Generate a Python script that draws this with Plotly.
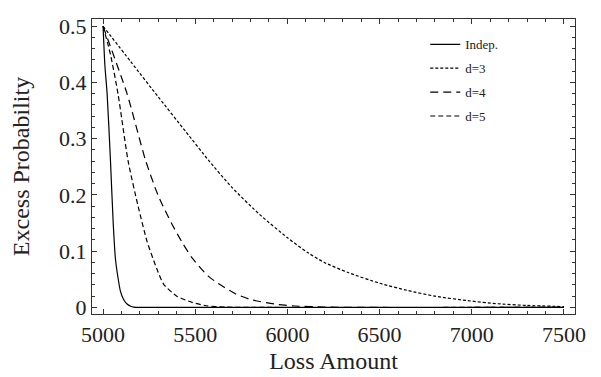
import plotly.graph_objects as go

# Data
indep_x = [5000, 5010, 5022, 5040, 5055, 5067, 5080, 5094, 5110, 5130, 5150, 5166, 5200, 5500, 7500]
indep_y = [0.5, 0.43, 0.38, 0.262, 0.15, 0.087, 0.055, 0.029, 0.015, 0.006, 0.002, 0.0005, 0.0, 0.0, 0.0]

d3_x = [5000, 5150, 5300, 5450, 5576, 5700, 5850, 6000, 6112, 6200, 6329, 6500, 6654, 6800, 6979, 7142, 7300, 7500]
d3_y = [0.5, 0.437, 0.374, 0.312, 0.26, 0.213, 0.165, 0.124, 0.097, 0.080, 0.062, 0.043, 0.030, 0.020, 0.012, 0.0065, 0.0035, 0.0015]

d4_x = [5000, 5130, 5230, 5300, 5374, 5430, 5483, 5569, 5627, 5720, 5800, 5931, 6040, 6200, 6400, 7500]
d4_y = [0.5, 0.38, 0.262, 0.198, 0.148, 0.115, 0.088, 0.056, 0.042, 0.024, 0.014, 0.006, 0.0025, 0.0007, 0.0, 0.0]

d5_x = [5000, 5040, 5081, 5136, 5190, 5239, 5290, 5329, 5400, 5483, 5560, 5660, 5800, 7500]
d5_y = [0.5, 0.45, 0.38, 0.26, 0.18, 0.117, 0.070, 0.041, 0.020, 0.009, 0.003, 0.0005, 0.0, 0.0]

x_ticks = [5000, 5500, 6000, 6500, 7000, 7500]
y_ticks = [0, 0.1, 0.2, 0.3, 0.4, 0.5]
y_tick_labels = ["0", "0.1", "0.2", "0.3", "0.4", "0.5"]

FONT = "Times New Roman, Liberation Serif, Times, serif"

fig = go.Figure()
series = [
    ("Indep.", indep_x, indep_y, "solid"),
    ("d=3", d3_x, d3_y, "3px,2px"),
    ("d=4", d4_x, d4_y, "8px,5px"),
    ("d=5", d5_x, d5_y, "5px,3px"),
]
for name, xs, ys, dash in series:
    fig.add_trace(go.Scatter(
        x=xs, y=ys, name=name, mode="lines", legendgroup=name,
        line=dict(color="black", width=1.2, dash=dash, shape="spline", smoothing=0.6),
    ))

axis_common = dict(
    showline=True, linecolor="#333", linewidth=1.2, mirror="allticks",
    ticks="inside", ticklen=5, tickwidth=1, tickcolor="#333",
    showgrid=False, zeroline=False,
    tickfont=dict(family=FONT, size=22, color="#222"),
)

fig.update_xaxes(
    range=[4940, 7560], tickvals=x_ticks,
    minor=dict(dtick=100, ticks="inside", ticklen=3, tickcolor="#333", showgrid=False),
    title=dict(text="Loss Amount", font=dict(family=FONT, size=24, color="#222"), standoff=6),
    **axis_common,
)
fig.update_yaxes(
    range=[-0.0117, 0.5128], tickvals=y_ticks, ticktext=y_tick_labels,
    minor=dict(dtick=0.02, ticks="inside", ticklen=3, tickcolor="#333", showgrid=False),
    title=dict(text="Excess Probability", font=dict(family=FONT, size=24, color="#222"), standoff=24),
    **axis_common,
)

fig.update_layout(
    width=601, height=377,
    margin=dict(l=84, r=34, t=6, b=71),
    plot_bgcolor="white", paper_bgcolor="white",
    showlegend=True,
    legend=dict(x=0.69, y=0.965, xanchor="left", yanchor="top",
                bgcolor="rgba(0,0,0,0)", font=dict(family=FONT, size=13, color="#222"),
                tracegroupgap=4),
)

fig.write_html("out.html")
